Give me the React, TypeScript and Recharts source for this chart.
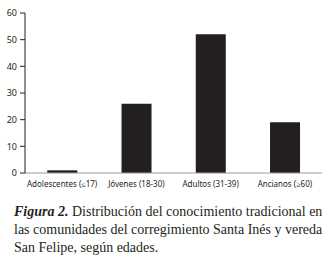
import { Bar, BarChart, XAxis, YAxis } from 'recharts';

const categorias = ["Adolescentes (≤17)", "Jóvenes (18-30)", "Adultos (31-39)", "Ancianos (≥60)"]
const valores = [1, 26, 52, 19]
const yTicks = [0, 10, 20, 30, 40, 50, 60]
const limites = [1, 2, 3, 4]

const data = categorias.map((c, i) => ({ categoria: c, valor: valores[i], pos: i + 0.5 }))

export default function App() {
  return (
    <div style={{ position: 'absolute', left: 0, top: 0, width: 333, height: 263, background: '#fff' }}>
      <BarChart
        width={333}
        height={195}
        data={data}
        barCategoryGap="30%"
        margin={{ top: 13, right: 11, left: 0, bottom: 0 }}
      >
        <XAxis
          dataKey="categoria"
          tickLine={false}
          axisLine={{ stroke: '#9a9a9a' }}
          tick={{ fontSize: 8, fill: '#231f20', fontFamily: 'Noto Sans' }}
          height={22}
          interval={0}
        />
        <XAxis
          xAxisId="lim"
          type="number"
          dataKey="pos"
          domain={[0, 4]}
          ticks={limites}
          tick={false}
          tickSize={4}
          tickLine={{ stroke: '#231f20' }}
          axisLine={false}
          height={0}
        />
        <YAxis
          domain={[0, 60]}
          ticks={yTicks}
          width={25}
          tickSize={5}
          tickMargin={3}
          axisLine={{ stroke: '#231f20' }}
          tickLine={{ stroke: '#231f20' }}
          tick={{ fontSize: 9, fill: '#231f20', fontFamily: 'Noto Sans' }}
        />
        <Bar dataKey="valor" fill="#231f20" isAnimationActive={false} />
      </BarChart>
      <div
        style={{
          position: 'absolute',
          left: 14,
          top: 203,
          fontFamily: 'Liberation Serif',
          fontSize: 14,
          lineHeight: '18px',
          color: '#231f20',
          whiteSpace: 'nowrap',
        }}
      >
        <b><i>Figura 2.</i></b> Distribución del conocimiento tradicional en<br />
        las comunidades del corregimiento Santa Inés y vereda<br />
        San Felipe, según edades.
      </div>
    </div>
  );
}
